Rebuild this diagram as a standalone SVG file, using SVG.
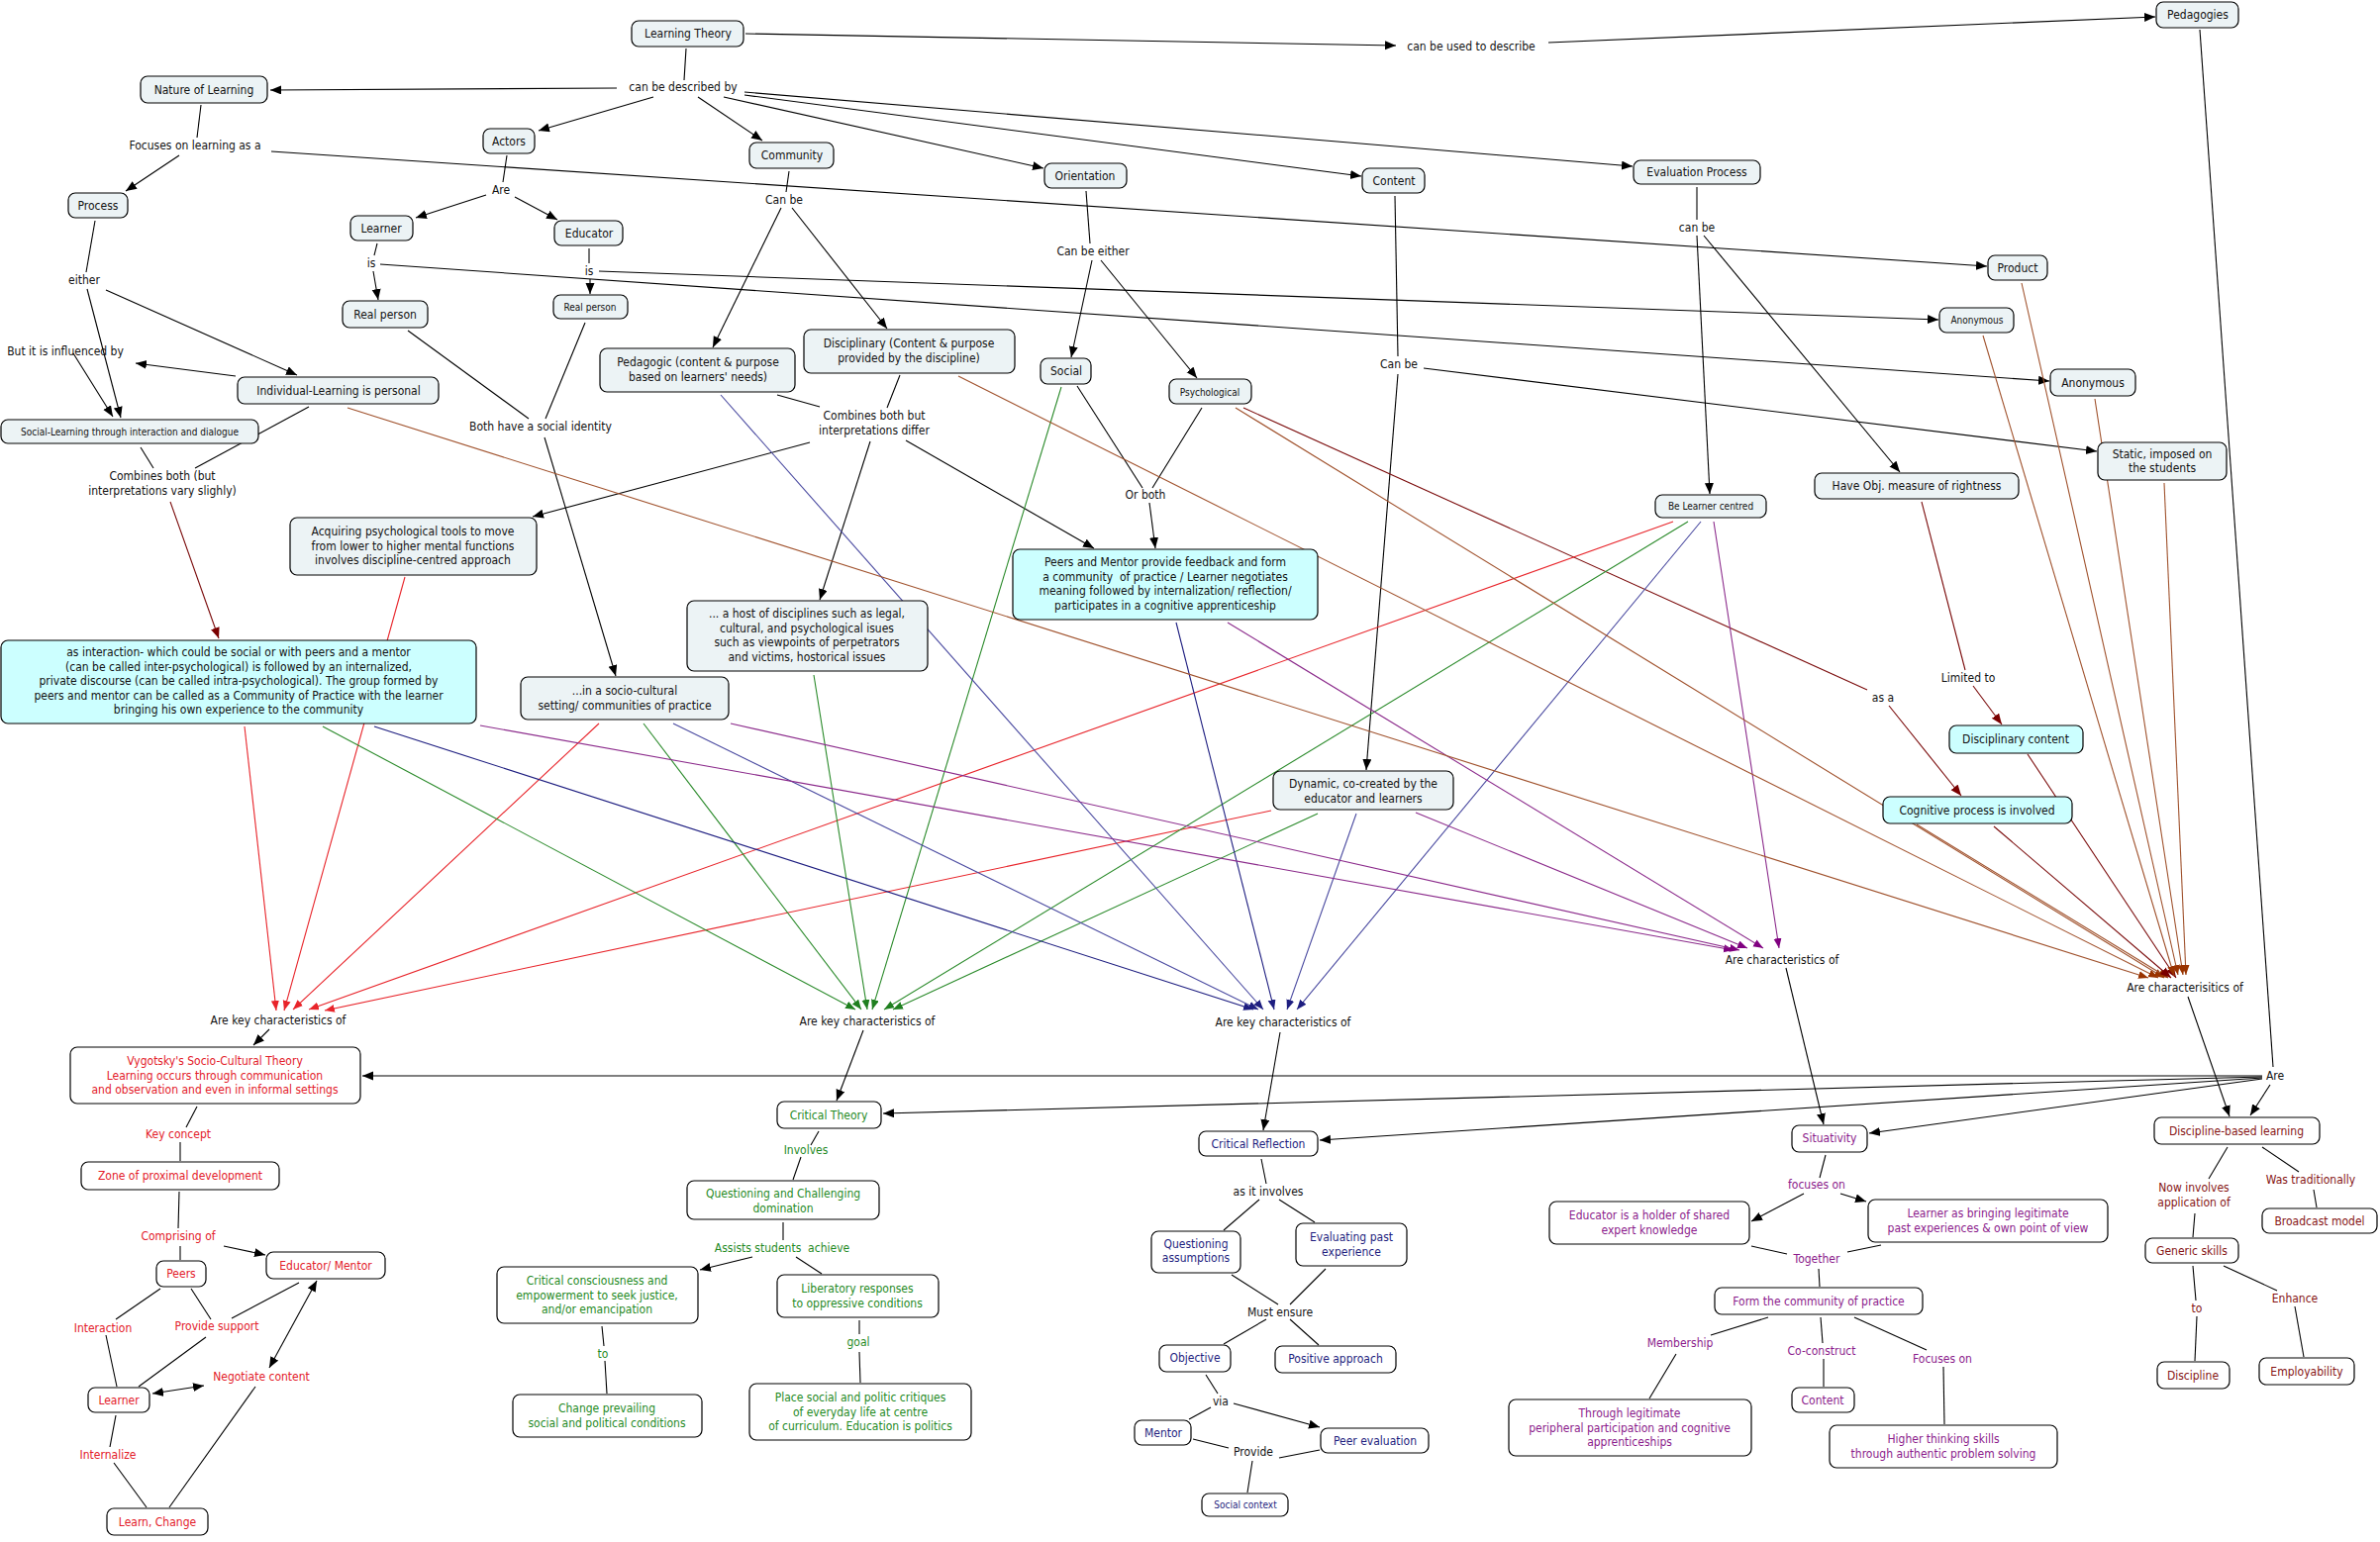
<svg xmlns="http://www.w3.org/2000/svg" width="2404" height="1558" viewBox="0 0 2404 1558">
<style>
.bg{fill:#fff}
rect.n{fill:#ecf3f5;stroke:#000;stroke-width:1.2}
rect.c{fill:#ccffff;stroke:#000;stroke-width:1.2}
rect.w{fill:#fff;stroke:#000;stroke-width:1.2}
text{font-family:"DejaVu Sans Condensed","DejaVu Sans",sans-serif;font-stretch:condensed;font-size:12px;text-anchor:middle;fill:#111}
text.s{font-size:10px}
.red{fill:#e3202a}.grn{fill:#1f8a1f}.blu{fill:#1e1e7e}.pur{fill:#8b1b8b}.mar{fill:#861515}
#conn line{stroke-width:1.1;fill:none}
.k{stroke:#000}.ka{stroke:#000;marker-end:url(#ak)}.kb{stroke:#000;marker-end:url(#ak);marker-start:url(#aks)}
.r{stroke:#e8242a;marker-end:url(#ar)}
.g{stroke:#2a8a2a;marker-end:url(#ag)}
.b{stroke:#1e1e80;marker-end:url(#ab)}
.b2{stroke:#4a4aa0;marker-end:url(#ab)}
.p{stroke:#8b2a8b;marker-end:url(#ap)}
.br{stroke:#a0522d;marker-end:url(#abr)}
.dr{stroke:#7a0a0a}.dra{stroke:#7a0a0a;marker-end:url(#adr)}
</style>
<defs>
<marker id="ak" markerUnits="userSpaceOnUse" markerWidth="12" markerHeight="10" refX="11" refY="4.5" orient="auto"><path d="M0,0 L11,4.5 L0,9 z" fill="#000"/></marker>
<marker id="aks" markerUnits="userSpaceOnUse" markerWidth="12" markerHeight="10" refX="11" refY="4.5" orient="auto-start-reverse"><path d="M0,0 L11,4.5 L0,9 z" fill="#000"/></marker>
<marker id="ar" markerUnits="userSpaceOnUse" markerWidth="11" markerHeight="9" refX="10" refY="4" orient="auto"><path d="M0,0 L10,4 L0,8 z" fill="#e8242a"/></marker>
<marker id="ag" markerUnits="userSpaceOnUse" markerWidth="11" markerHeight="9" refX="10" refY="4" orient="auto"><path d="M0,0 L10,4 L0,8 z" fill="#1f7f1f"/></marker>
<marker id="ab" markerUnits="userSpaceOnUse" markerWidth="11" markerHeight="9" refX="10" refY="4" orient="auto"><path d="M0,0 L10,4 L0,8 z" fill="#1e1e80"/></marker>
<marker id="ap" markerUnits="userSpaceOnUse" markerWidth="11" markerHeight="9" refX="10" refY="4" orient="auto"><path d="M0,0 L10,4 L0,8 z" fill="#800080"/></marker>
<marker id="abr" markerUnits="userSpaceOnUse" markerWidth="11" markerHeight="9" refX="10" refY="4" orient="auto"><path d="M0,0 L10,4 L0,8 z" fill="#993300"/></marker>
<marker id="adr" markerUnits="userSpaceOnUse" markerWidth="12" markerHeight="10" refX="11" refY="4.5" orient="auto"><path d="M0,0 L11,4.5 L0,9 z" fill="#7a0000"/></marker>
</defs>
<rect class="bg" x="0" y="0" width="2404" height="1558"/>
<g id="conn">
<line class="k" x1="693" y1="49" x2="691" y2="81"/>
<line class="ka" x1="623" y1="89" x2="273" y2="91"/>
<line class="ka" x1="660" y1="98" x2="544" y2="132"/>
<line class="ka" x1="705" y1="98" x2="770" y2="142"/>
<line class="ka" x1="731" y1="98" x2="1054" y2="170"/>
<line class="ka" x1="752" y1="96" x2="1375" y2="178"/>
<line class="ka" x1="752" y1="93" x2="1649" y2="168"/>
<line class="ka" x1="753" y1="34" x2="1410" y2="46"/>
<line class="ka" x1="1564" y1="43" x2="2177" y2="17"/>
<line class="k" x1="2222" y1="30" x2="2296" y2="1078"/>
<line class="ka" x1="2285" y1="1087" x2="366" y2="1087"/>
<line class="ka" x1="2285" y1="1088" x2="892" y2="1125"/>
<line class="ka" x1="2285" y1="1089" x2="1333" y2="1152"/>
<line class="ka" x1="2285" y1="1090" x2="1888" y2="1145"/>
<line class="ka" x1="2293" y1="1096" x2="2273" y2="1127"/>
<line class="k" x1="203" y1="106" x2="199" y2="139"/>
<line class="ka" x1="181" y1="157" x2="127" y2="193"/>
<line class="ka" x1="274" y1="153" x2="2007" y2="269"/>
<line class="k" x1="96" y1="223" x2="87" y2="275"/>
<line class="ka" x1="88" y1="292" x2="122" y2="422"/>
<line class="ka" x1="107" y1="293" x2="300" y2="379"/>
<line class="ka" x1="238" y1="380" x2="137" y2="367"/>
<line class="ka" x1="74" y1="357" x2="114" y2="421"/>
<line class="k" x1="142" y1="452" x2="155" y2="473"/>
<line class="k" x1="312" y1="411" x2="197" y2="473"/>
<line class="dra" x1="172" y1="507" x2="221" y2="645"/>
<line class="k" x1="512" y1="157" x2="508" y2="184"/>
<line class="ka" x1="491" y1="197" x2="420" y2="220"/>
<line class="ka" x1="520" y1="199" x2="563" y2="222"/>
<line class="k" x1="381" y1="246" x2="378" y2="258"/>
<line class="ka" x1="377" y1="274" x2="382" y2="303"/>
<line class="ka" x1="384" y1="267" x2="2070" y2="385"/>
<line class="k" x1="595" y1="251" x2="595" y2="266"/>
<line class="ka" x1="596" y1="282" x2="596" y2="297"/>
<line class="ka" x1="605" y1="274" x2="1958" y2="323"/>
<line class="k" x1="412" y1="334" x2="534" y2="423"/>
<line class="k" x1="591" y1="326" x2="551" y2="423"/>
<line class="ka" x1="550" y1="442" x2="622" y2="683"/>
<line class="k" x1="797" y1="173" x2="794" y2="194"/>
<line class="ka" x1="789" y1="210" x2="720" y2="351"/>
<line class="ka" x1="800" y1="210" x2="896" y2="332"/>
<line class="k" x1="785" y1="399" x2="828" y2="411"/>
<line class="k" x1="909" y1="379" x2="896" y2="412"/>
<line class="ka" x1="818" y1="447" x2="538" y2="522"/>
<line class="ka" x1="879" y1="446" x2="828" y2="606"/>
<line class="ka" x1="915" y1="445" x2="1105" y2="554"/>
<line class="k" x1="1097" y1="193" x2="1101" y2="246"/>
<line class="ka" x1="1103" y1="263" x2="1082" y2="361"/>
<line class="ka" x1="1112" y1="263" x2="1209" y2="382"/>
<line class="k" x1="1088" y1="390" x2="1154" y2="493"/>
<line class="k" x1="1214" y1="412" x2="1164" y2="493"/>
<line class="ka" x1="1161" y1="508" x2="1167" y2="554"/>
<line class="k" x1="1409" y1="198" x2="1412" y2="360"/>
<line class="ka" x1="1412" y1="378" x2="1380" y2="778"/>
<line class="ka" x1="1438" y1="372" x2="2118" y2="456"/>
<line class="k" x1="1714" y1="189" x2="1714" y2="222"/>
<line class="ka" x1="1714" y1="238" x2="1727" y2="499"/>
<line class="ka" x1="1721" y1="238" x2="1919" y2="477"/>
<line class="dr" x1="1941" y1="507" x2="1985" y2="677"/>
<line class="dra" x1="1993" y1="693" x2="2022" y2="732"/>
<line class="dr" x1="1256" y1="412" x2="1886" y2="697"/>
<line class="dra" x1="1908" y1="713" x2="1981" y2="804"/>
<line class="r" x1="247" y1="734" x2="279" y2="1021"/>
<line class="r" x1="409" y1="583" x2="287" y2="1021"/>
<line class="r" x1="605" y1="731" x2="296" y2="1020"/>
<line class="r" x1="1690" y1="527" x2="312" y2="1020"/>
<line class="r" x1="1284" y1="819" x2="328" y2="1021"/>
<line class="g" x1="326" y1="734" x2="864" y2="1020"/>
<line class="g" x1="650" y1="731" x2="870" y2="1020"/>
<line class="g" x1="822" y1="682" x2="876" y2="1020"/>
<line class="g" x1="1072" y1="391" x2="881" y2="1020"/>
<line class="g" x1="1705" y1="527" x2="893" y2="1020"/>
<line class="g" x1="1331" y1="822" x2="902" y2="1020"/>
<line class="b" x1="378" y1="734" x2="1266" y2="1020"/>
<line class="b2" x1="680" y1="731" x2="1271" y2="1020"/>
<line class="b2" x1="728" y1="399" x2="1276" y2="1020"/>
<line class="b" x1="1188" y1="629" x2="1287" y2="1020"/>
<line class="b2" x1="1370" y1="822" x2="1300" y2="1020"/>
<line class="b2" x1="1718" y1="527" x2="1310" y2="1020"/>
<line class="p" x1="485" y1="733" x2="1751" y2="960"/>
<line class="p" x1="738" y1="731" x2="1757" y2="960"/>
<line class="p" x1="1430" y1="821" x2="1765" y2="958"/>
<line class="p" x1="1240" y1="629" x2="1781" y2="958"/>
<line class="p" x1="1731" y1="527" x2="1797" y2="958"/>
<line class="br" x1="351" y1="412" x2="2170" y2="988"/>
<line class="br" x1="968" y1="380" x2="2180" y2="988"/>
<line class="br" x1="1248" y1="412" x2="2186" y2="988"/>
<line class="br" x1="1936" y1="833" x2="2190" y2="988"/>
<line class="dra" x1="2014" y1="835" x2="2193" y2="988"/>
<line class="dra" x1="2048" y1="762" x2="2198" y2="988"/>
<line class="br" x1="2003" y1="339" x2="2196" y2="986"/>
<line class="br" x1="2042" y1="286" x2="2200" y2="985"/>
<line class="br" x1="2116" y1="403" x2="2205" y2="985"/>
<line class="br" x1="2186" y1="488" x2="2208" y2="985"/>
<line class="ka" x1="272" y1="1040" x2="256" y2="1056"/>
<line class="ka" x1="872" y1="1041" x2="845" y2="1112"/>
<line class="ka" x1="1293" y1="1043" x2="1276" y2="1142"/>
<line class="ka" x1="1804" y1="978" x2="1842" y2="1136"/>
<line class="ka" x1="2210" y1="1007" x2="2252" y2="1128"/>
<line class="k" x1="199" y1="1118" x2="188" y2="1139"/>
<line class="k" x1="182" y1="1154" x2="182" y2="1173"/>
<line class="k" x1="181" y1="1204" x2="180" y2="1241"/>
<line class="k" x1="182" y1="1259" x2="182" y2="1273"/>
<line class="ka" x1="226" y1="1259" x2="268" y2="1268"/>
<line class="k" x1="162" y1="1302" x2="117" y2="1333"/>
<line class="k" x1="107" y1="1349" x2="118" y2="1401"/>
<line class="k" x1="193" y1="1302" x2="213" y2="1333"/>
<line class="k" x1="302" y1="1296" x2="234" y2="1332"/>
<line class="k" x1="208" y1="1351" x2="140" y2="1401"/>
<line class="kb" x1="154" y1="1408" x2="206" y2="1400"/>
<line class="kb" x1="272" y1="1382" x2="320" y2="1294"/>
<line class="k" x1="117" y1="1430" x2="111" y2="1462"/>
<line class="k" x1="115" y1="1478" x2="148" y2="1523"/>
<line class="k" x1="258" y1="1401" x2="171" y2="1523"/>
<line class="k" x1="827" y1="1143" x2="819" y2="1157"/>
<line class="k" x1="809" y1="1169" x2="801" y2="1192"/>
<line class="k" x1="791" y1="1235" x2="791" y2="1253"/>
<line class="ka" x1="760" y1="1270" x2="707" y2="1283"/>
<line class="k" x1="804" y1="1270" x2="830" y2="1287"/>
<line class="k" x1="608" y1="1340" x2="610" y2="1360"/>
<line class="k" x1="611" y1="1375" x2="613" y2="1408"/>
<line class="k" x1="868" y1="1334" x2="868" y2="1348"/>
<line class="k" x1="868" y1="1366" x2="869" y2="1397"/>
<line class="k" x1="1274" y1="1171" x2="1279" y2="1196"/>
<line class="k" x1="1272" y1="1212" x2="1236" y2="1243"/>
<line class="k" x1="1292" y1="1212" x2="1328" y2="1235"/>
<line class="k" x1="1244" y1="1288" x2="1291" y2="1318"/>
<line class="k" x1="1339" y1="1282" x2="1303" y2="1318"/>
<line class="k" x1="1279" y1="1333" x2="1236" y2="1358"/>
<line class="k" x1="1303" y1="1333" x2="1332" y2="1359"/>
<line class="k" x1="1218" y1="1389" x2="1230" y2="1408"/>
<line class="k" x1="1223" y1="1422" x2="1201" y2="1434"/>
<line class="ka" x1="1246" y1="1418" x2="1333" y2="1442"/>
<line class="k" x1="1205" y1="1454" x2="1241" y2="1463"/>
<line class="k" x1="1333" y1="1465" x2="1292" y2="1473"/>
<line class="k" x1="1265" y1="1476" x2="1260" y2="1508"/>
<line class="k" x1="1844" y1="1167" x2="1838" y2="1190"/>
<line class="ka" x1="1822" y1="1206" x2="1769" y2="1234"/>
<line class="ka" x1="1859" y1="1206" x2="1885" y2="1214"/>
<line class="k" x1="1769" y1="1259" x2="1805" y2="1267"/>
<line class="k" x1="1900" y1="1258" x2="1866" y2="1265"/>
<line class="k" x1="1837" y1="1282" x2="1838" y2="1300"/>
<line class="k" x1="1786" y1="1331" x2="1728" y2="1349"/>
<line class="k" x1="1693" y1="1368" x2="1666" y2="1413"/>
<line class="k" x1="1839" y1="1331" x2="1841" y2="1357"/>
<line class="k" x1="1842" y1="1373" x2="1842" y2="1401"/>
<line class="k" x1="1873" y1="1331" x2="1946" y2="1364"/>
<line class="k" x1="1963" y1="1381" x2="1964" y2="1439"/>
<line class="k" x1="2250" y1="1159" x2="2231" y2="1191"/>
<line class="k" x1="2217" y1="1226" x2="2215" y2="1250"/>
<line class="k" x1="2285" y1="1159" x2="2322" y2="1184"/>
<line class="k" x1="2337" y1="1202" x2="2340" y2="1220"/>
<line class="k" x1="2215" y1="1279" x2="2218" y2="1314"/>
<line class="k" x1="2219" y1="1330" x2="2217" y2="1375"/>
<line class="k" x1="2246" y1="1279" x2="2300" y2="1304"/>
<line class="k" x1="2318" y1="1320" x2="2327" y2="1371"/>
</g>
<g id="links">
<text x="690" y="92">can be described by</text>
<text x="1486" y="51">can be used to describe</text>
<text x="197" y="151">Focuses on learning as a</text>
<text x="506" y="196">Are</text>
<text x="792" y="206">Can be</text>
<text x="375" y="270">is</text>
<text x="595" y="278">is</text>
<text x="85" y="287">either</text>
<text x="1104" y="258">Can be either</text>
<text x="1714" y="234">can be</text>
<text x="1413" y="372">Can be</text>
<text x="66" y="359">But it is influenced by</text>
<text x="546" y="435">Both have a social identity</text>
<text x="883" y="424">Combines both but<tspan x="883" y="439">interpretations differ</tspan></text>
<text x="164" y="485">Combines both (but<tspan x="164" y="500">interpretations vary slighly)</tspan></text>
<text x="1157" y="504">Or both</text>
<text x="1988" y="689">Limited to</text>
<text x="1902" y="709">as a</text>
<text x="281" y="1035">Are key characteristics of</text>
<text x="876" y="1036">Are key characteristics of</text>
<text x="1296" y="1037">Are key characteristics of</text>
<text x="1800" y="974">Are characteristics of</text>
<text x="2207" y="1002">Are characterisitics of</text>
<text x="2298" y="1091">Are</text>
<text class="red" x="180" y="1150">Key concept</text>
<text class="red" x="180" y="1253">Comprising of</text>
<text class="red" x="104" y="1346">Interaction</text>
<text class="red" x="219" y="1344">Provide support</text>
<text class="red" x="264" y="1395">Negotiate content</text>
<text class="red" x="109" y="1474">Internalize</text>
<text class="grn" x="814" y="1166">Involves</text>
<text class="grn" x="790" y="1265" xml:space="preserve">Assists students  achieve</text>
<text class="grn" x="609" y="1372">to</text>
<text class="grn" x="867" y="1360">goal</text>
<text x="1281" y="1208">as it involves</text>
<text x="1293" y="1330">Must ensure</text>
<text x="1233" y="1420">via</text>
<text x="1266" y="1471">Provide</text>
<text class="pur" x="1835" y="1201">focuses on</text>
<text class="pur" x="1835" y="1276">Together</text>
<text class="pur" x="1697" y="1361">Membership</text>
<text class="pur" x="1840" y="1369">Co-construct</text>
<text class="pur" x="1962" y="1377">Focuses on</text>
<text class="mar" x="2216" y="1204">Now involves<tspan x="2216" y="1219">application of</tspan></text>
<text class="mar" x="2334" y="1196">Was traditionally</text>
<text class="mar" x="2219" y="1326">to</text>
<text class="mar" x="2318" y="1316">Enhance</text>
</g>
<g id="n-learning-theory"><rect class="n" x="638" y="21" width="113" height="26" rx="7"/><text x="695" y="38">Learning Theory</text></g>
<g id="n-nature"><rect class="n" x="142" y="77" width="128" height="27" rx="7"/><text x="206" y="95">Nature of Learning</text></g>
<g id="n-actors"><rect class="n" x="488" y="130" width="52" height="25" rx="7"/><text x="514" y="147">Actors</text></g>
<g id="n-community"><rect class="n" x="757" y="144" width="85" height="26" rx="7"/><text x="800" y="161">Community</text></g>
<g id="n-orientation"><rect class="n" x="1055" y="165" width="83" height="25" rx="7"/><text x="1096" y="182">Orientation</text></g>
<g id="n-content"><rect class="n" x="1376" y="170" width="63" height="25" rx="7"/><text x="1408" y="187">Content</text></g>
<g id="n-evaluation"><rect class="n" x="1650" y="162" width="128" height="24" rx="7"/><text x="1714" y="178">Evaluation Process</text></g>
<g id="n-pedagogies"><rect class="n" x="2178" y="2" width="83" height="26" rx="7"/><text x="2220" y="19">Pedagogies</text></g>
<g id="n-process"><rect class="n" x="69" y="195" width="60" height="25" rx="7"/><text x="99" y="212">Process</text></g>
<g id="n-learner"><rect class="n" x="354" y="218" width="63" height="25" rx="7"/><text x="385" y="235">Learner</text></g>
<g id="n-educator"><rect class="n" x="560" y="223" width="69" height="25" rx="7"/><text x="595" y="240">Educator</text></g>
<g id="n-realperson1"><rect class="n" x="346" y="304" width="86" height="27" rx="7"/><text x="389" y="322">Real person</text></g>
<g id="n-realperson2"><rect class="n" x="559" y="298" width="75" height="24" rx="7"/><text class="s" x="596" y="314">Real person</text></g>
<g id="n-individual"><rect class="n" x="240" y="381" width="203" height="27" rx="7"/><text x="342" y="399">Individual-Learning is personal</text></g>
<g id="n-social-learning"><rect class="n" x="1" y="424" width="260" height="24" rx="7"/><text class="s" x="131" y="440">Social-Learning through interaction and dialogue</text></g>
<g id="n-pedagogic"><rect class="n" x="606" y="352" width="197" height="44" rx="7"/><text x="705" y="370">Pedagogic (content &amp; purpose<tspan x="705" y="385">based on learners' needs)</tspan></text></g>
<g id="n-disciplinary"><rect class="n" x="812" y="333" width="213" height="44" rx="7"/><text x="918" y="351">Disciplinary (Content &amp; purpose<tspan x="918" y="366">provided by the discipline)</tspan></text></g>
<g id="n-social"><rect class="n" x="1051" y="362" width="51" height="26" rx="7"/><text x="1077" y="379">Social</text></g>
<g id="n-psychological"><rect class="n" x="1181" y="383" width="83" height="25" rx="7"/><text class="s" x="1222" y="400">Psychological</text></g>
<g id="n-product"><rect class="n" x="2008" y="258" width="60" height="25" rx="7"/><text x="2038" y="275">Product</text></g>
<g id="n-anon1"><rect class="n" x="1959" y="311" width="75" height="25" rx="7"/><text class="s" x="1997" y="327">Anonymous</text></g>
<g id="n-anon2"><rect class="n" x="2071" y="373" width="86" height="27" rx="7"/><text x="2114" y="391">Anonymous</text></g>
<g id="n-static"><rect class="n" x="2119" y="447" width="130" height="38" rx="7"/><text x="2184" y="463">Static, imposed on<tspan x="2184" y="477">the students</tspan></text></g>
<g id="n-haveobj"><rect class="n" x="1833" y="478" width="206" height="26" rx="7"/><text x="1936" y="495">Have Obj. measure of rightness</text></g>
<g id="n-belearner"><rect class="n" x="1672" y="500" width="112" height="23" rx="7"/><text class="s" x="1728" y="515">Be Learner centred</text></g>
<g id="n-acquiring"><rect class="n" x="293" y="523" width="249" height="58" rx="7"/><text x="417" y="541">Acquiring psychological tools to move<tspan x="417" y="556">from lower to higher mental functions</tspan><tspan x="417" y="570">involves discipline-centred approach</tspan></text></g>
<g id="n-interaction"><rect class="c" x="1" y="647" width="480" height="84" rx="7"/><text x="241" y="663">as interaction- which could be social or with peers and a mentor<tspan x="241" y="678">(can be called inter-psychological) is followed by an internalized,</tspan><tspan x="241" y="692">private discourse (can be called intra-psychological). The group formed by</tspan><tspan x="241" y="707">peers and mentor can be called as a Community of Practice with the learner</tspan><tspan x="241" y="721">bringing his own experience to the community</tspan></text></g>
<g id="n-sociocultural"><rect class="n" x="526" y="684" width="210" height="43" rx="7"/><text x="631" y="702">...in a socio-cultural<tspan x="631" y="717">setting/ communities of practice</tspan></text></g>
<g id="n-host"><rect class="n" x="694" y="607" width="243" height="71" rx="7"/><text x="815" y="624">... a host of disciplines such as legal,<tspan x="815" y="639">cultural, and psychological isues</tspan><tspan x="815" y="653">such as viewpoints of perpetrators</tspan><tspan x="815" y="668">and victims, hostorical issues</tspan></text></g>
<g id="n-peersmentor"><rect class="c" x="1023" y="555" width="308" height="71" rx="7"/><text x="1177" y="572" xml:space="preserve">Peers and Mentor provide feedback and form<tspan x="1177" y="587">a community  of practice / Learner negotiates</tspan><tspan x="1177" y="601">meaning followed by internalization/ reflection/</tspan><tspan x="1177" y="616">participates in a cognitive apprenticeship</tspan></text></g>
<g id="n-dynamic"><rect class="n" x="1286" y="779" width="182" height="39" rx="7"/><text x="1377" y="796">Dynamic, co-created by the<tspan x="1377" y="811">educator and learners</tspan></text></g>
<g id="n-disccontent"><rect class="c" x="1969" y="733" width="135" height="28" rx="7"/><text x="2036" y="751">Disciplinary content</text></g>
<g id="n-cognitive"><rect class="c" x="1902" y="805" width="191" height="27" rx="7"/><text x="1997" y="823">Cognitive process is involved</text></g>
<g id="n-vygotsky"><rect class="w" x="71" y="1058" width="293" height="57" rx="7"/><text class="red" x="217" y="1076">Vygotsky's Socio-Cultural Theory<tspan x="217" y="1091">Learning occurs through communication</tspan><tspan x="217" y="1105">and observation and even in informal settings</tspan></text></g>
<g id="n-zone"><rect class="w" x="82" y="1174" width="200" height="28" rx="7"/><text class="red" x="182" y="1192">Zone of proximal development</text></g>
<g id="n-peers"><rect class="w" x="158" y="1274" width="50" height="26" rx="7"/><text class="red" x="183" y="1291">Peers</text></g>
<g id="n-edmentor"><rect class="w" x="269" y="1265" width="120" height="27" rx="7"/><text class="red" x="329" y="1283">Educator/ Mentor</text></g>
<g id="n-learner-red"><rect class="w" x="89" y="1402" width="62" height="25" rx="7"/><text class="red" x="120" y="1419">Learner</text></g>
<g id="n-learnchange"><rect class="w" x="108" y="1524" width="102" height="27" rx="7"/><text class="red" x="159" y="1542">Learn, Change</text></g>
<g id="n-crittheory"><rect class="w" x="785" y="1113" width="105" height="27" rx="7"/><text class="grn" x="837" y="1131">Critical Theory</text></g>
<g id="n-questioning"><rect class="w" x="694" y="1193" width="194" height="39" rx="7"/><text class="grn" x="791" y="1210">Questioning and Challenging<tspan x="791" y="1225">domination</tspan></text></g>
<g id="n-critcons"><rect class="w" x="502" y="1280" width="203" height="57" rx="7"/><text class="grn" x="603" y="1298">Critical consciousness and<tspan x="603" y="1313">empowerment to seek justice,</tspan><tspan x="603" y="1327">and/or emancipation</tspan></text></g>
<g id="n-liberatory"><rect class="w" x="785" y="1288" width="163" height="43" rx="7"/><text class="grn" x="866" y="1306">Liberatory responses<tspan x="866" y="1321">to oppressive conditions</tspan></text></g>
<g id="n-change"><rect class="w" x="518" y="1409" width="191" height="43" rx="7"/><text class="grn" x="613" y="1427">Change prevailing<tspan x="613" y="1442">social and political conditions</tspan></text></g>
<g id="n-place"><rect class="w" x="757" y="1398" width="224" height="57" rx="7"/><text class="grn" x="869" y="1416">Place social and politic critiques<tspan x="869" y="1431">of everyday life at centre</tspan><tspan x="869" y="1445">of curriculum. Education is politics</tspan></text></g>
<g id="n-critrefl"><rect class="w" x="1211" y="1143" width="120" height="25" rx="7"/><text class="blu" x="1271" y="1160">Critical Reflection</text></g>
<g id="n-qassump"><rect class="w" x="1163" y="1244" width="90" height="42" rx="7"/><text class="blu" x="1208" y="1261">Questioning<tspan x="1208" y="1275">assumptions</tspan></text></g>
<g id="n-evalpast"><rect class="w" x="1309" y="1236" width="112" height="43" rx="7"/><text class="blu" x="1365" y="1254">Evaluating past<tspan x="1365" y="1269">experience</tspan></text></g>
<g id="n-objective"><rect class="w" x="1171" y="1359" width="72" height="27" rx="7"/><text class="blu" x="1207" y="1376">Objective</text></g>
<g id="n-positive"><rect class="w" x="1288" y="1360" width="122" height="27" rx="7"/><text class="blu" x="1349" y="1377">Positive approach</text></g>
<g id="n-mentor"><rect class="w" x="1146" y="1435" width="57" height="25" rx="7"/><text class="blu" x="1175" y="1452">Mentor</text></g>
<g id="n-peereval"><rect class="w" x="1334" y="1443" width="109" height="25" rx="7"/><text class="blu" x="1389" y="1460">Peer evaluation</text></g>
<g id="n-socialctx"><rect class="w" x="1214" y="1509" width="87" height="23" rx="7"/><text class="s blu" x="1258" y="1524">Social context</text></g>
<g id="n-situativity"><rect class="w" x="1810" y="1137" width="76" height="27" rx="7"/><text class="pur" x="1848" y="1154">Situativity</text></g>
<g id="n-edholder"><rect class="w" x="1565" y="1214" width="202" height="43" rx="7"/><text class="pur" x="1666" y="1232">Educator is a holder of shared<tspan x="1666" y="1247">expert knowledge</tspan></text></g>
<g id="n-learnerbring"><rect class="w" x="1887" y="1212" width="242" height="43" rx="7"/><text class="pur" x="2008" y="1230">Learner as bringing legitimate<tspan x="2008" y="1245">past experiences &amp; own point of view</tspan></text></g>
<g id="n-formcom"><rect class="w" x="1732" y="1301" width="210" height="27" rx="7"/><text class="pur" x="1837" y="1319">Form the community of practice</text></g>
<g id="n-through"><rect class="w" x="1524" y="1414" width="245" height="57" rx="7"/><text class="pur" x="1646" y="1432">Through legitimate<tspan x="1646" y="1447">peripheral participation and cognitive</tspan><tspan x="1646" y="1461">apprenticeships</tspan></text></g>
<g id="n-content-pur"><rect class="w" x="1810" y="1402" width="63" height="25" rx="7"/><text class="pur" x="1841" y="1419">Content</text></g>
<g id="n-higher"><rect class="w" x="1848" y="1440" width="230" height="43" rx="7"/><text class="pur" x="1963" y="1458">Higher thinking skills<tspan x="1963" y="1473">through authentic problem solving</tspan></text></g>
<g id="n-dbl"><rect class="w" x="2176" y="1129" width="167" height="27" rx="7"/><text class="mar" x="2259" y="1147">Discipline-based learning</text></g>
<g id="n-broadcast"><rect class="w" x="2285" y="1221" width="116" height="25" rx="7"/><text class="mar" x="2343" y="1238">Broadcast model</text></g>
<g id="n-generic"><rect class="w" x="2167" y="1251" width="94" height="25" rx="7"/><text class="mar" x="2214" y="1268">Generic skills</text></g>
<g id="n-discipline"><rect class="w" x="2179" y="1376" width="73" height="27" rx="7"/><text class="mar" x="2215" y="1394">Discipline</text></g>
<g id="n-employ"><rect class="w" x="2282" y="1372" width="96" height="27" rx="7"/><text class="mar" x="2330" y="1390">Employability</text></g>
</svg>
